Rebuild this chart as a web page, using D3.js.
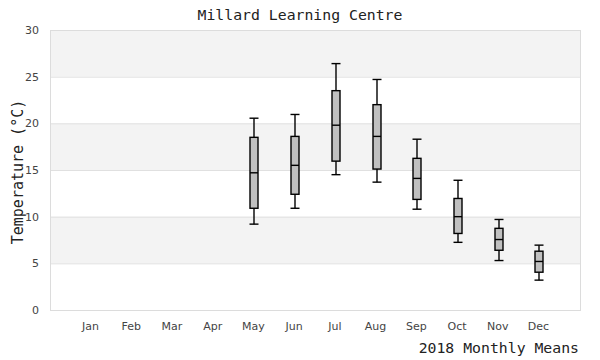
<!DOCTYPE html>
<html><head><meta charset="utf-8">
<script src="https://cdn.jsdelivr.net/npm/d3@7"></script>
<style>body{margin:0;background:#fff}</style>
</head><body><svg id="c" width="600" height="360"></svg>
<script>
const months = ["Jan","Feb","Mar","Apr","May","Jun","Jul","Aug","Sep","Oct","Nov","Dec"];
const boxMonths = ["May","Jun","Jul","Aug","Sep","Oct","Nov","Dec"];
const whiskerLow  = [9.2, 10.9, 14.5, 13.7, 10.8, 7.25, 5.3, 3.2];
const q1          = [10.9, 12.4, 15.95, 15.1, 11.85, 8.2, 6.4, 4.05];
const median      = [14.7, 15.5, 19.8, 18.6, 14.1, 10.0, 7.55, 5.2];
const q3          = [18.5, 18.6, 23.5, 22.0, 16.25, 11.95, 8.75, 6.3];
const whiskerHigh = [20.55, 20.95, 26.4, 24.7, 18.3, 13.9, 9.7, 6.95];
const yTicks = [0, 5, 10, 15, 20, 25, 30];

const svg = d3.select("#c");
const L = 50, R = 581, T = 30, B = 310;
const x = d3.scalePoint().domain(months).range([L, R]).padding(1.02);
const y = d3.scaleLinear().domain([0, 30]).range([B, T]);

// alternating bands
const bands = [[5,10],[15,20],[25,30]];
svg.selectAll("rect.band").data(bands).enter().append("rect")
  .attr("x", L).attr("width", R - L)
  .attr("y", d => y(d[1])).attr("height", d => y(d[0]) - y(d[1]))
  .attr("fill", "#f3f3f3");

// grid lines
svg.selectAll("line.grid").data(yTicks).enter().append("line")
  .attr("x1", L).attr("x2", R)
  .attr("y1", d => y(d) + 0.5).attr("y2", d => y(d) + 0.5)
  .attr("stroke", "#e0e0e0").attr("stroke-width", 1);
// plot border
svg.append("rect").attr("x", L + 0.5).attr("y", T + 0.5).attr("width", R - L - 1).attr("height", B - T)
  .attr("fill", "none").attr("stroke", "#dcdcdc");

// y tick labels
svg.selectAll("text.yt").data(yTicks).enter().append("text")
  .attr("x", 39).attr("y", d => y(d) + 4)
  .attr("text-anchor", "end")
  .attr("font-family", "DejaVu Sans, sans-serif").attr("font-size", 11).attr("fill", "#444")
  .text(d => d);

// x tick labels
svg.selectAll("text.xt").data(months).enter().append("text")
  .attr("x", d => x(d) - 1).attr("y", 330)
  .attr("text-anchor", "middle")
  .attr("font-family", "DejaVu Sans, sans-serif").attr("font-size", 11).attr("fill", "#444")
  .text(d => d);

// boxes
const data = boxMonths.map((m, i) => ({m, lo: whiskerLow[i], q1: q1[i], med: median[i], q3: q3[i], hi: whiskerHigh[i]}));
const bw = 8, cw = 9;
const g = svg.selectAll("g.box").data(data).enter().append("g")
  .attr("transform", d => `translate(${Math.round(x(d.m))},0)`);
g.append("line").attr("x1", 0).attr("x2", 0).attr("y1", d => y(d.hi)).attr("y2", d => y(d.lo))
  .attr("stroke", "#000").attr("stroke-width", 1.4);
g.append("line").attr("x1", -cw/2).attr("x2", cw/2).attr("y1", d => y(d.hi)).attr("y2", d => y(d.hi))
  .attr("stroke", "#000").attr("stroke-width", 1.4);
g.append("line").attr("x1", -cw/2).attr("x2", cw/2).attr("y1", d => y(d.lo)).attr("y2", d => y(d.lo))
  .attr("stroke", "#000").attr("stroke-width", 1.4);
g.append("rect").attr("x", -bw/2).attr("width", bw)
  .attr("y", d => y(d.q3)).attr("height", d => y(d.q1) - y(d.q3))
  .attr("fill", "#c0c0c0").attr("stroke", "#000").attr("stroke-width", 1.4);
g.append("line").attr("x1", -bw/2).attr("x2", bw/2).attr("y1", d => y(d.med)).attr("y2", d => y(d.med))
  .attr("stroke", "#000").attr("stroke-width", 1.4);

// titles
const mono = "DejaVu Sans Mono, Liberation Mono, monospace";
svg.append("text").attr("x", 300).attr("y", 20).attr("text-anchor", "middle")
  .attr("font-family", mono).attr("font-size", 14.8).attr("fill", "#222")
  .text("Millard Learning Centre");
svg.append("text").attr("x", 579).attr("y", 353).attr("text-anchor", "end")
  .attr("font-family", mono).attr("font-size", 14.8).attr("fill", "#222")
  .text("2018 Monthly Means");
svg.append("text").attr("transform", "translate(23,172) rotate(-90)").attr("text-anchor", "middle")
  .attr("font-family", mono).attr("font-size", 15).attr("fill", "#222")
  .text("Temperature (°C)");
</script></body></html>
